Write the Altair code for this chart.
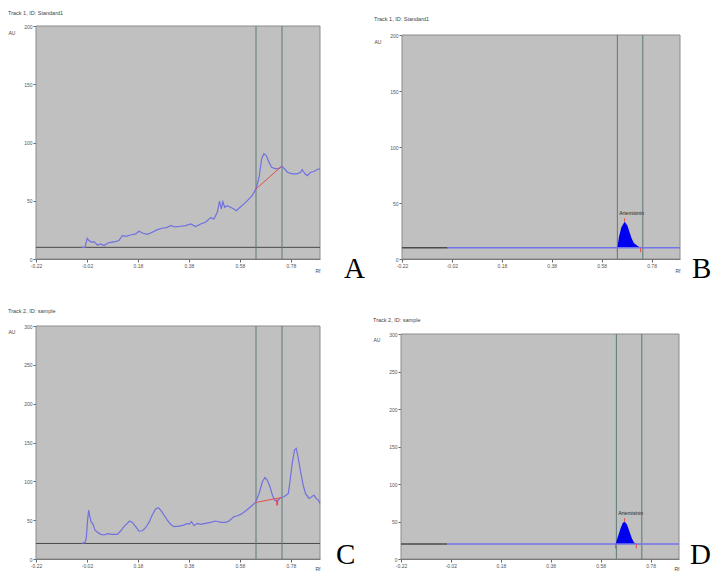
import altair as alt
import pandas as pd

# ---------------- shared axis settings ----------------
X_DOMAIN = [-0.22, 0.894]
X_TICKS = [-0.22, -0.02, 0.18, 0.38, 0.58, 0.78]
Y_TICKS_200 = [0, 50, 100, 150, 200]
Y_TICKS_300 = [0, 50, 100, 150, 200, 250, 300]
WINDOW_RF = [0.643, 0.745]
PEAK_NAME = "Artemisinin"

# ---------------- Panel A: Track 1, Standard1 (raw scan) ----------------
a_rf = [-0.041, -0.028, -0.019, -0.012, -0.002, 0.007, 0.021, 0.034, 0.047, 0.060,
        0.073, 0.092, 0.105, 0.119, 0.132, 0.151, 0.171, 0.184, 0.197, 0.217,
        0.236, 0.256, 0.275, 0.295, 0.308, 0.328, 0.347, 0.367, 0.387, 0.406,
        0.426, 0.445, 0.465, 0.478, 0.491, 0.500, 0.507, 0.513, 0.520, 0.530,
        0.543, 0.556, 0.566, 0.576, 0.596, 0.609, 0.628, 0.643, 0.655, 0.665,
        0.674, 0.683, 0.694, 0.704, 0.720, 0.733, 0.743, 0.753, 0.766, 0.785,
        0.805, 0.818, 0.824, 0.835, 0.844, 0.857, 0.870, 0.883, 0.894]
a_au = [10.0, 10.0, 17.8, 15.8, 14.3, 14.9, 12.0, 12.9, 11.5, 13.5,
        14.3, 14.9, 15.8, 20.1, 19.5, 20.6, 21.5, 23.8, 22.3, 21.2,
        22.9, 25.2, 26.4, 27.2, 28.7, 27.5, 28.1, 28.7, 30.1, 27.8,
        30.1, 31.5, 35.5, 34.4, 40.1, 49.6, 43.0, 49.3, 44.4, 45.8,
        44.4, 43.0, 41.5, 43.6, 47.3, 50.1, 54.4, 60.2, 70.2, 86.0,
        90.3, 88.8, 83.1, 78.8, 77.4, 77.9, 79.4, 77.9, 74.5, 73.1,
        73.1, 74.5, 76.8, 73.1, 71.6, 74.5, 75.1, 76.8, 77.4]
a_base = 10
a_red_rf = [0.643, 0.743]
a_red_au = [60.2, 79.4]

# ---------------- Panel B: Track 1, Standard1 (integrated peak) ----------------
b_base = 10
b_base_start = -0.037
b_peak_rf = [0.643, 0.649, 0.659, 0.672, 0.683, 0.692, 0.700, 0.709, 0.723, 0.736]
b_peak_au = [10.0, 19.3, 28.3, 33.3, 29.8, 23.8, 18.5, 14.3, 11.9, 10.0]
b_label_rf = 0.700
b_label_au = 41

# ---------------- Panel C: Track 2, sample (raw scan) ----------------
c_rf = [-0.041, -0.028, -0.023, -0.017, -0.013, -0.010, -0.004, 0.004, 0.011, 0.021,
        0.034, 0.047, 0.060, 0.079, 0.099, 0.112, 0.125, 0.138, 0.147, 0.158,
        0.171, 0.184, 0.197, 0.210, 0.223, 0.236, 0.249, 0.260, 0.269, 0.282,
        0.295, 0.308, 0.321, 0.341, 0.360, 0.373, 0.380, 0.390, 0.400, 0.413,
        0.426, 0.445, 0.465, 0.485, 0.504, 0.524, 0.537, 0.556, 0.570, 0.583,
        0.602, 0.622, 0.641, 0.655, 0.668, 0.678, 0.687, 0.698, 0.707, 0.716,
        0.726, 0.739, 0.753, 0.762, 0.770, 0.776, 0.785, 0.794, 0.801, 0.809,
        0.818, 0.828, 0.837, 0.851, 0.860, 0.870, 0.879, 0.887, 0.894]
c_au = [20.1, 21.0, 26.6, 52.3, 63.0, 56.6, 48.0, 44.6, 37.3, 34.3,
        31.7, 30.9, 32.6, 31.7, 31.7, 36.0, 41.6, 45.9, 48.9, 47.1,
        41.6, 36.0, 36.4, 40.3, 47.1, 56.6, 64.3, 66.0, 63.0, 56.6,
        50.1, 44.6, 41.6, 42.4, 43.7, 45.9, 44.6, 48.0, 42.9, 45.9,
        44.6, 45.9, 47.1, 48.9, 47.1, 47.1, 48.9, 54.4, 55.7, 57.4,
        61.7, 67.3, 72.9, 84.4, 99.4, 105.0, 101.6, 93.0, 82.3, 75.9,
        73.7, 78.9, 80.2, 82.3, 84.4, 99.4, 123.0, 140.2, 142.3, 129.4,
        112.3, 95.2, 84.4, 78.0, 79.7, 82.3, 78.0, 75.9, 71.6]
c_base = 20
c_red_rf = [0.644, 0.745]
c_red_au = [72.9, 79.3]
c_dip_rf = 0.726
c_dip_au = [76.6, 69.0]

# ---------------- Panel D: Track 2, sample (integrated peak) ----------------
d_base = 20
d_base_start = -0.035
d_peak_rf = [0.640, 0.649, 0.660, 0.669, 0.676, 0.685, 0.696, 0.705, 0.713, 0.723]
d_peak_au = [20.0, 29.8, 40.9, 48.4, 49.8, 46.2, 36.4, 27.6, 22.2, 20.0]
d_label_rf = 0.700
d_label_au = 62

# ---------------- styling ----------------
FONT = "Liberation Sans"
CURVE = "#7070e0"
RED = "#e05050"
WIN = "#5a7a76"
BASE_DARK = "#4a4a4a"
FILL = "#0000f0"
PLOT_BG = "#c0c0c0"
PANEL_H = 233
LETTER_SIZE = 29


def x_enc(width, rf_y):
    return alt.X("rf:Q",
                 scale=alt.Scale(domain=X_DOMAIN, nice=False, zero=False),
                 axis=alt.Axis(values=X_TICKS,
                               labelExpr="datum.value < 0 ? '-' + format(-datum.value, '.2f') : format(datum.value, '.2f')",
                               title="Rf", titleX=width, titleY=rf_y, titleAlign="right",
                               titleBaseline="middle", titleAngle=0))


def y_enc(ymax, plot_h, ticks, au_y):
    # the scale spans the full panel height; the plotted frame covers 0..ymax
    top = ymax * PANEL_H / plot_h
    return alt.Y("au:Q",
                 scale=alt.Scale(domain=[0, top], nice=False, zero=True),
                 axis=alt.Axis(values=ticks, format="d", title="AU", titleAngle=0,
                               titleX=-28, titleY=au_y, titleAlign="left",
                               titleBaseline="middle", domain=False))


def letter(ch, px, py):
    return alt.Chart(pd.DataFrame({"t": [ch]})).mark_text(
        font="Liberation Serif", fontSize=LETTER_SIZE, align="left",
        baseline="alphabetic", color="black").encode(
        text="t:N", x=alt.value(px), y=alt.value(py))


def title(text, offset):
    return alt.TitleParams(text=text, anchor="start", offset=offset, fontSize=5.5,
                           font=FONT, fontWeight="normal", color="#444")


def frame(X, Y, ymax):
    bg = pd.DataFrame({"rf": [X_DOMAIN[0]], "rf2": [X_DOMAIN[1]], "au": [0], "au2": [ymax]})
    return alt.Chart(bg).mark_rect(fill=PLOT_BG, stroke="#8c8c8c", strokeWidth=1).encode(
        x=X, x2="rf2:Q", y=Y, y2="au2:Q")


def window(X, Y, ymax):
    w = pd.DataFrame({"rf": WINDOW_RF, "au": [0, 0], "au2": [ymax, ymax]})
    return alt.Chart(w).mark_rule(color=WIN, strokeWidth=1).encode(x=X, y=Y, y2="au2:Q")


def raw_panel(rf, au, base, red_rf, red_au, ymax, ticks, width, plot_h, au_y, rf_y,
              ttl, let, extra=None):
    X = x_enc(width, rf_y)
    Y = y_enc(ymax, plot_h, ticks, au_y)
    curve = alt.Chart(pd.DataFrame({"rf": rf, "au": au})).mark_line(
        color=CURVE, strokeWidth=1.2).encode(x=X, y=Y)
    baseline = alt.Chart(pd.DataFrame({"rf": [X_DOMAIN[0]], "rf2": [X_DOMAIN[1]],
                                       "au": [base]})).mark_rule(
        color=BASE_DARK, strokeWidth=1).encode(x=X, x2="rf2:Q", y=Y)
    red = alt.Chart(pd.DataFrame({"rf": red_rf, "au": red_au})).mark_line(
        color=RED, strokeWidth=1).encode(x=X, y=Y)
    layers = [frame(X, Y, ymax), baseline, window(X, Y, ymax), curve, red]
    if extra is not None:
        layers.append(extra(X, Y))
    layers.append(let)
    return alt.layer(*layers).properties(width=width, height=PANEL_H, title=ttl)


def peak_panel(base, base_start, prf, pau, lrf, lau, ymax, ticks, width, plot_h, au_y,
               rf_y, ttl, let):
    X = x_enc(width, rf_y)
    Y = y_enc(ymax, plot_h, ticks, au_y)
    pk = pd.DataFrame({"rf": prf, "au": pau, "base": [base] * len(prf)})
    area = alt.Chart(pk).mark_area(color=FILL, opacity=1).encode(
        x=X, y=Y, y2="base:Q")
    segs = pd.DataFrame({"rf": [X_DOMAIN[0], base_start], "rf2": [base_start, X_DOMAIN[1]],
                         "au": [base, base], "c": ["dark", "blue"]})
    baseline = alt.Chart(segs).mark_rule(strokeWidth=1.5).encode(
        x=X, x2="rf2:Q", y=Y,
        color=alt.Color("c:N", scale=alt.Scale(domain=["dark", "blue"],
                                               range=[BASE_DARK, "#7373ee"]), legend=None))
    top_i = pau.index(max(pau))
    mk = pd.DataFrame({"rf": [prf[0], prf[-1], prf[top_i]],
                       "au": [base, base, pau[top_i]],
                       "au2": [base - ymax * 0.02, base - ymax * 0.02,
                               pau[top_i] + ymax * 0.015]})
    marks = alt.Chart(mk).mark_rule(color=RED, strokeWidth=1).encode(
        x=X, y=Y, y2="au2:Q")
    lbl = alt.Chart(pd.DataFrame({"rf": [lrf], "au": [lau], "t": [PEAK_NAME]})).mark_text(
        font=FONT, fontSize=5, color="#222", align="center", baseline="middle").encode(
        x=X, y=Y, text="t:N")
    return alt.layer(frame(X, Y, ymax), window(X, Y, ymax), area, baseline, marks, lbl,
                     let).properties(width=width, height=PANEL_H, title=ttl)


def c_extra(X, Y):
    return alt.Chart(pd.DataFrame({"rf": [c_dip_rf], "au": [c_dip_au[0]],
                                   "au2": [c_dip_au[1]]})).mark_rule(
        color=RED, strokeWidth=2).encode(x=X, y=Y, y2="au2:Q")


A = raw_panel(a_rf, a_au, a_base, a_red_rf, a_red_au, 200, Y_TICKS_200, 284, 233, 6, 11,
              title("Track 1, ID: Standard1", 8), letter("A", 308, 252))
B = peak_panel(b_base, b_base_start, b_peak_rf, b_peak_au, b_label_rf, b_label_au,
               200, Y_TICKS_200, 278, 224, 15, 11,
               title("Track 1, ID: Standard1", 4), letter("B", 290, 252))
C = raw_panel(c_rf, c_au, c_base, c_red_rf, c_red_au, 300, Y_TICKS_300, 284, 233, 5, 9,
              title("Track 2, ID: sample", 10), letter("C", 300, 238), extra=c_extra)
D = peak_panel(d_base, d_base_start, d_peak_rf, d_peak_au, d_label_rf, d_label_au,
               300, Y_TICKS_300, 278, 225, 13, 9,
               title("Track 2, ID: sample", 3), letter("D", 289, 238))

row1 = alt.hconcat(A, B, spacing=9)
row2 = alt.hconcat(C, D, spacing=17)

chart = alt.vconcat(row1, row2, spacing=24).properties(
    padding={"left": 0, "top": 2, "right": 0, "bottom": 0},
    background="white",
).configure_view(
    stroke="transparent", strokeWidth=0
).configure_axis(
    grid=False, labelFont=FONT, labelFontSize=5, labelColor="#555",
    tickColor="#666", tickSize=3, labelPadding=1, domainColor="#666",
    titleFont=FONT, titleFontSize=5, titleFontWeight="normal", titleColor="#444",
    labelFlush=False, labelOverlap=False
)

chart.save("out.html", embed_options={"renderer": "svg", "actions": False})
